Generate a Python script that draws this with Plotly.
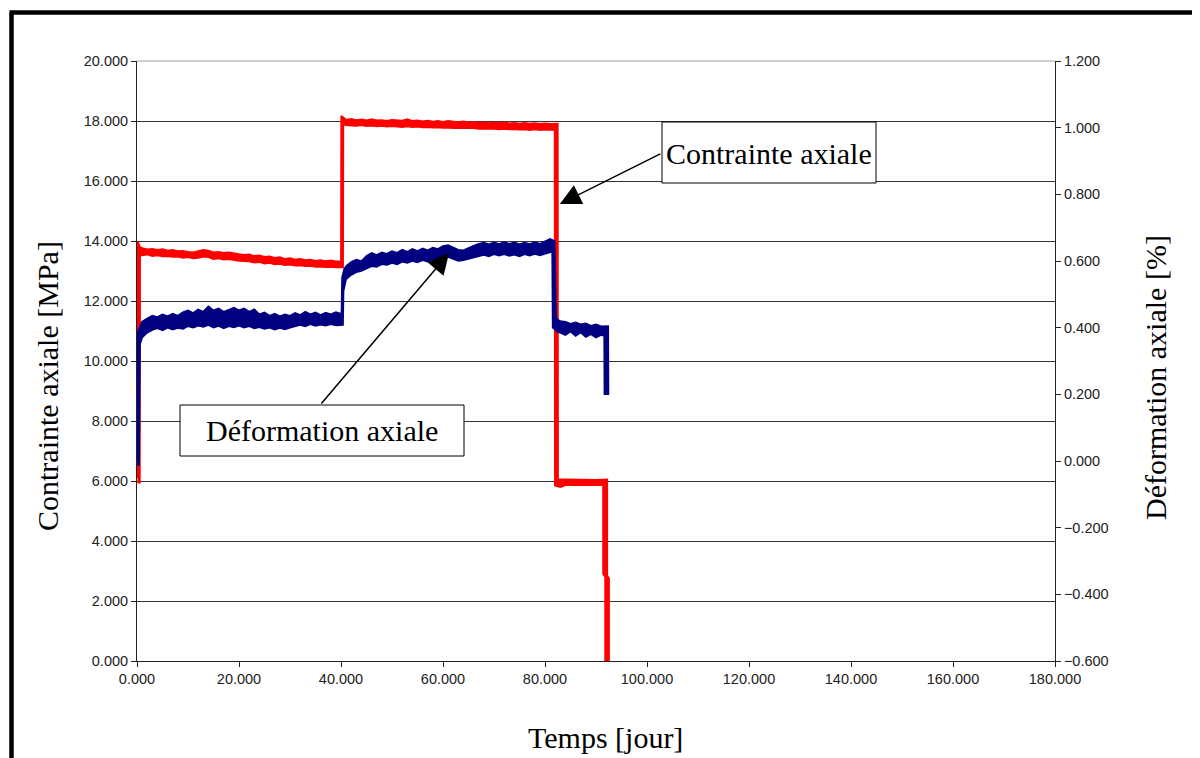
import plotly.graph_objects as go

# ---- data ----
# Contrainte axiale [MPa] : the noisy trace is drawn as a band (upper / lower envelope)
stress_hi_t = [0.1, 0.15, 0.6, 1, 2, 3, 4, 5, 6, 7, 8, 9, 10, 11, 12, 13, 14, 15, 16, 17, 18, 19, 20,
               21, 22, 23, 24, 25, 26, 27, 28, 29, 30, 31, 32, 33, 34, 35, 36, 37, 38, 39, 40.0,
               40.05, 40.6, 41, 42, 43, 44, 45, 46, 47, 48, 49, 50, 52, 53, 54, 55, 56, 57, 58, 59,
               60, 61, 62, 63, 64, 65, 66, 67, 68, 69, 70, 71, 72, 73, 74, 75, 76, 77, 78, 79, 80,
               81, 82.5, 82.55, 84, 86, 88, 90, 92.2, 92.2, 92.55, 92.55]
stress_hi = [6.1, 13.98, 13.80, 13.76, 13.72, 13.74, 13.70, 13.73, 13.68, 13.70, 13.66, 13.67, 13.64,
             13.62, 13.66, 13.70, 13.68, 13.62, 13.64, 13.60, 13.62, 13.58, 13.56, 13.54, 13.55,
             13.50, 13.52, 13.47, 13.49, 13.44, 13.46, 13.40, 13.43, 13.38, 13.40, 13.36, 13.38,
             13.34, 13.36, 13.33, 13.35, 13.32, 13.33,
             18.17, 18.10, 18.04, 18.07, 18.03, 18.05, 18.02, 18.06, 18.02, 18.03, 18.00, 18.04,
             18.01, 18.06, 18.00, 18.02, 17.99, 18.01, 17.98, 18.00, 17.97, 18.00, 17.98, 17.96,
             17.99, 17.95, 17.97, 17.94, 17.96, 17.93, 17.95, 17.93, 17.96, 17.92, 17.94, 17.91,
             17.94, 17.91, 17.93, 17.90, 17.92, 17.90, 17.91,
             6.05, 6.05, 6.04, 6.05, 6.04, 6.05, 2.85, 2.75, 0.0]
stress_lo_t = [0.1, 0.55, 0.6, 1, 2, 3, 4, 5, 6, 7, 8, 9, 10, 11, 12, 13, 14, 15, 16, 17, 18, 19, 20,
               21, 22, 23, 24, 25, 26, 27, 28, 29, 30, 31, 32, 33, 34, 35, 36, 37, 38, 39, 40.4,
               40.45, 41, 42, 43, 44, 45, 46, 47, 48, 49, 50, 52, 53, 54, 55, 56, 57, 58, 59, 60,
               61, 62, 63, 64, 65, 66, 67, 68, 69, 70, 71, 72, 73, 74, 75, 76, 77, 78, 79, 80, 81,
               81.9, 81.95, 83, 84, 86, 88, 90, 91.4, 91.4, 91.8, 91.8]
stress_lo = [5.95, 5.95, 13.52, 13.52, 13.55, 13.50, 13.52, 13.49, 13.50, 13.47, 13.48, 13.44, 13.46,
             13.42, 13.44, 13.48, 13.46, 13.40, 13.42, 13.38, 13.40, 13.36, 13.34, 13.33, 13.32,
             13.28, 13.30, 13.25, 13.27, 13.22, 13.24, 13.20, 13.21, 13.18, 13.19, 13.16, 13.17,
             13.14, 13.15, 13.13, 13.14, 13.12, 13.12,
             17.88, 17.86, 17.85, 17.84, 17.86, 17.83, 17.85, 17.82, 17.84, 17.81, 17.83, 17.80,
             17.82, 17.80, 17.81, 17.79, 17.80, 17.78, 17.79, 17.77, 17.78, 17.76, 17.77, 17.77,
             17.75, 17.76, 17.74, 17.75, 17.74, 17.74, 17.72, 17.74, 17.72, 17.73, 17.71, 17.72,
             17.70, 17.72, 17.70, 17.71, 17.70, 17.70,
             5.85, 5.80, 5.86, 5.87, 5.86, 5.87, 5.86, 2.9, 2.8, 0.0]

# Déformation axiale [%] : upper / lower envelope of the noisy trace
strain_hi_t = [0.05, 0.1, 0.6, 1, 2, 3, 4, 5, 6, 7, 8, 9, 10, 11, 12, 13, 14, 15, 16, 17, 18, 19, 20,
               21, 22, 23, 24, 25, 26, 27, 28, 29, 30, 31, 32, 33, 34, 35, 36, 37, 38, 39, 40.0,
               40.1, 40.2, 40.6, 41, 42, 43, 44, 45, 46, 47, 48, 49, 50, 51, 52, 53, 54, 55, 56, 57,
               58, 59, 60, 61, 62, 63, 64, 65, 66, 67, 68, 69, 70, 71, 72, 73, 74, 75, 76, 77, 78,
               79, 80, 81, 81.9, 82.2, 82.6, 83, 84, 85, 86, 87, 88, 89, 90, 91, 92.4, 92.45]
strain_hi = [0.0, 0.385, 0.405, 0.418, 0.428, 0.436, 0.432, 0.440, 0.434, 0.442, 0.436, 0.446, 0.452,
             0.444, 0.455, 0.448, 0.464, 0.452, 0.458, 0.448, 0.454, 0.460, 0.452, 0.458, 0.448,
             0.455, 0.440, 0.446, 0.436, 0.442, 0.434, 0.440, 0.436, 0.444, 0.438, 0.448, 0.440,
             0.446, 0.438, 0.445, 0.440, 0.447, 0.442,
             0.450, 0.550, 0.575, 0.585, 0.597, 0.604, 0.600, 0.615, 0.624, 0.618, 0.626, 0.622,
             0.630, 0.625, 0.634, 0.628, 0.636, 0.630, 0.638, 0.632, 0.640, 0.636, 0.645, 0.648,
             0.640, 0.634, 0.632, 0.640, 0.646, 0.652, 0.655, 0.650, 0.656, 0.651, 0.657, 0.652,
             0.656, 0.650, 0.655, 0.651, 0.657, 0.652, 0.658, 0.666, 0.660,
             0.430, 0.423, 0.420, 0.418, 0.412, 0.416, 0.410, 0.413, 0.406, 0.410, 0.404, 0.405,
             0.198]
strain_lo_t = [0.05, 0.4, 0.6, 1, 2, 3, 4, 5, 6, 7, 8, 9, 10, 11, 12, 13, 14, 15, 16, 17, 18, 19, 20,
               21, 22, 23, 24, 25, 26, 27, 28, 29, 30, 31, 32, 33, 34, 35, 36, 37, 38, 39, 40.4,
               40.5, 41, 42, 43, 44, 45, 46, 47, 48, 49, 50, 51, 52, 53, 54, 55, 56, 57, 58, 59, 60,
               61, 62, 63, 64, 65, 66, 67, 68, 69, 70, 71, 72, 73, 74, 75, 76, 77, 78, 79, 80, 81,
               81.4, 81.5, 82.5, 83, 84, 85, 86, 87, 88, 89, 90, 91, 91.6, 91.65]
strain_lo = [-0.012, -0.012, 0.350, 0.370, 0.385, 0.393, 0.398, 0.392, 0.400, 0.394, 0.399, 0.396,
             0.404, 0.400, 0.406, 0.402, 0.408, 0.400, 0.405, 0.398, 0.404, 0.401, 0.406, 0.400,
             0.404, 0.398, 0.401, 0.396, 0.400, 0.394, 0.399, 0.395, 0.400, 0.403, 0.408, 0.404,
             0.410, 0.405, 0.409, 0.406, 0.410, 0.407, 0.408,
             0.510, 0.545, 0.558, 0.566, 0.570, 0.578, 0.584, 0.582, 0.590, 0.588, 0.594, 0.590,
             0.598, 0.594, 0.600, 0.596, 0.602, 0.598, 0.605, 0.602, 0.610, 0.612, 0.606, 0.600,
             0.602, 0.606, 0.612, 0.615, 0.618, 0.614, 0.620, 0.616, 0.620, 0.615, 0.619, 0.614,
             0.620, 0.616, 0.621, 0.617, 0.622, 0.628, 0.628,
             0.400, 0.387, 0.385, 0.378, 0.388, 0.375, 0.385, 0.372, 0.380, 0.370, 0.378, 0.375,
             0.198]

x_ticks = [0, 20, 40, 60, 80, 100, 120, 140, 160, 180]
y_left_ticks = [0, 2, 4, 6, 8, 10, 12, 14, 16, 18, 20]
y_right_ticks = [-0.6, -0.4, -0.2, 0.0, 0.2, 0.4, 0.6, 0.8, 1.0, 1.2]

# ---- figure ----
# the page adds an 8px body margin, so the figure is 8px smaller than the window
W, H = 1192, 750
L, R, T, B = 129, 145, 53, 97
PW, PH = W - L - R, H - T - B
OFF = 8


def px(x):  # page pixel -> paper
    return (x - OFF - L) / PW


def py(y):
    return (H - B - (y - OFF)) / PH


tickfont = dict(family="Liberation Sans, Arial", size=14.5, color="#222222")
serif = "Liberation Serif, Times New Roman"
BLUE = "#000080"
RED = "#FF0000"

fig = go.Figure()
fig.add_trace(go.Scatter(x=strain_lo_t, y=strain_lo, yaxis="y2", mode="lines",
                         line=dict(color=BLUE, width=1.6), showlegend=False))
fig.add_trace(go.Scatter(x=strain_hi_t, y=strain_hi, yaxis="y2", mode="lines", fill="tonexty",
                         fillcolor=BLUE, line=dict(color=BLUE, width=1.6), showlegend=False))
fig.add_trace(go.Scatter(x=stress_lo_t, y=stress_lo, mode="lines",
                         line=dict(color=RED, width=1.8), showlegend=False))
fig.add_trace(go.Scatter(x=stress_hi_t, y=stress_hi, mode="lines", fill="tonexty",
                         fillcolor=RED, line=dict(color=RED, width=1.8), showlegend=False))

fig.update_layout(
    width=W, height=H,
    margin=dict(l=L, r=R, t=T, b=B),
    paper_bgcolor="white", plot_bgcolor="white",
    showlegend=False,
    xaxis=dict(range=[0, 180], tickvals=x_ticks, tickformat=".3f", showgrid=False,
               zeroline=False, showline=True, linecolor="#222", linewidth=1,
               ticks="outside", ticklen=5, tickcolor="#222", tickfont=tickfont),
    yaxis=dict(range=[0, 20], tickvals=y_left_ticks, tickformat=".3f", showgrid=True,
               gridcolor="#333333", gridwidth=1, zeroline=False, showline=True,
               linecolor="#222", linewidth=1, ticks="outside", ticklen=5, tickcolor="#222",
               tickfont=tickfont),
    yaxis2=dict(range=[-0.6, 1.2], tickvals=y_right_ticks, tickformat=".3f", overlaying="y",
                side="right", showgrid=False, zeroline=False, showline=True, linecolor="#222",
                linewidth=1, ticks="outside", ticklen=5, tickcolor="#222", tickfont=tickfont),
)

shapes = [
    dict(type="line", xref="paper", yref="paper", x0=0, x1=1, y0=1, y1=1,
         line=dict(color="#a0a0a0", width=1.2), layer="above"),
    dict(type="line", xref="paper", yref="paper", x0=px(11.5), x1=px(11.5), y0=py(12.5), y1=py(770),
         line=dict(color="black", width=4.5)),
    dict(type="line", xref="paper", yref="paper", x0=px(9.5), x1=px(1215), y0=py(12.5), y1=py(12.5),
         line=dict(color="black", width=4.5)),
    dict(type="rect", xref="paper", yref="paper", x0=px(662), x1=px(876), y0=py(183), y1=py(122),
         line=dict(color="black", width=1), fillcolor="white", layer="above"),
    dict(type="rect", xref="paper", yref="paper", x0=px(180), x1=px(464), y0=py(456), y1=py(405),
         line=dict(color="black", width=1), fillcolor="white", layer="above"),
]
fig.update_layout(shapes=shapes)

tfont = dict(family=serif, size=30, color="black")
annotations = [
    dict(text="Contrainte axiale", xref="paper", yref="paper", x=px(769), y=py(153),
         xanchor="center", yanchor="middle", showarrow=False, font=tfont),
    dict(text="Déformation axiale", xref="paper", yref="paper", x=px(322), y=py(430),
         xanchor="center", yanchor="middle", showarrow=False, font=tfont),
    dict(text="", x=82.9, y=15.23, xref="x", yref="y", showarrow=True, ax=102, ay=-51,
         arrowhead=2, arrowsize=2.8, arrowwidth=1.5, arrowcolor="black"),
    dict(text="", x=61.2, y=13.6, xref="x", yref="y", showarrow=True, ax=-129, ay=152,
         arrowhead=2, arrowsize=2.8, arrowwidth=1.5, arrowcolor="black"),
    dict(text="Contrainte axiale [MPa]", xref="paper", yref="paper", x=px(47), y=py(386),
         xanchor="center", yanchor="middle", textangle=-90, showarrow=False, font=tfont),
    dict(text="Déformation axiale [%]", xref="paper", yref="paper", x=px(1155), y=py(378),
         xanchor="center", yanchor="middle", textangle=-90, showarrow=False, font=tfont),
    dict(text="Temps [jour]", xref="paper", yref="paper", x=px(605), y=py(737),
         xanchor="center", yanchor="middle", showarrow=False, font=tfont),
]
fig.update_layout(annotations=annotations)

fig.write_html("out.html")
